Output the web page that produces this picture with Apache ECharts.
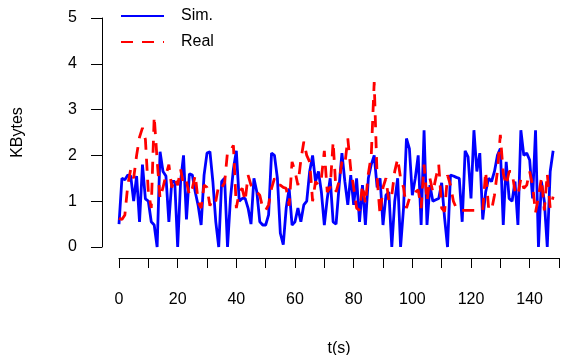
<!DOCTYPE html>
<html>
<head>
<meta charset="utf-8">
<script src="https://cdn.jsdelivr.net/npm/echarts@6/dist/echarts.min.js"></script>
<style>
  html, body { margin: 0; padding: 0; background: #fff; }
  #chart { width: 567px; height: 355px; }
</style>
</head>
<body>
<div id="chart"></div>
<script>
// KBytes per second, t = 0..148
const SIM = [
  0.5, 1.5, 1.47, 1.57, 1.55, 1.0, 1.55, 0.55, 1.8, 1.05,
  1.0, 0.55, 0.48, 0, 2.08, 1.65, 1.55, 0.55, 1.43, 1.43,
  0, 1.43, 2.0, 0.6, 1.6, 1.57, 1.2, 0.9, 0.48, 1.57,
  2.05, 2.08, 1.43, 0.55, 0, 1.43, 1.5, 0, 1.06, 1.7,
  2.1, 1.0, 1.06, 1.06, 0.85, 0.5, 1.5, 1.2, 0.55, 0.48,
  0.48, 0.7, 2.05, 2.0, 1.5, 0.3, 0.05, 0.85, 1.28, 0.48,
  0.55, 0.85, 0.55, 0.92, 1.0, 1.65, 2.0, 1.43, 1.65, 1.2,
  0.48, 1.06, 1.5, 0.55, 0.5, 1.3, 2.05, 1.43, 0.92, 1.57,
  0.92, 1.5, 0.55, 1.35, 0.48, 1.5, 1.8, 2.0, 1.3, 1.5,
  0.48, 1.13, 1.2, 0, 1.0, 1.5, 0, 0.85, 2.37, 2.15,
  1.13, 1.5, 2.0, 0.48, 2.55, 0.48, 1.35, 1.0, 1.03, 1.06,
  1.4, 0.63, 0, 1.57, 1.55, 1.52, 1.5, 0.55, 2.1, 1.97,
  1.06, 2.55, 1.65, 2.05, 0.6, 1.2, 1.5, 1.43, 1.65, 2.0,
  2.15, 0.48, 1.86, 1.06, 1.0, 1.43, 0.48, 2.55, 2.0, 2.05,
  1.9, 1.06, 2.55, 0, 1.43, 1.0, 0, 1.65, 2.1
];

const REAL = [
  0.63, 0.6, 0.7, 1.35, 1.7, 1.5, 2.0, 2.4, 2.6, 2.35,
  1.2, 0.85, 2.85, 1.9, 1.06, 1.3, 1.57, 1.8, 1.3, 1.5,
  1.35, 1.7, 1.35, 1.43, 1.13, 1.28, 1.57, 0.98, 0.85, 1.35,
  1.3, 0.9, 1.06, 1.0, 1.35, 1.3, 1.4, 2.08, 2.1, 2.22,
  0.85, 1.2, 1.28, 1.0, 1.57, 1.35, 1.3, 1.2, 1.13, 0.85,
  0.8, 0.92, 1.28, 1.5, 1.35, 1.35, 1.3, 1.28, 0.9, 1.86,
  1.65, 1.35, 1.9, 2.3, 2.0, 1.86, 1.0, 1.43, 1.35, 1.5,
  2.1, 1.2, 1.3, 2.3, 1.2, 1.43, 1.86, 1.8, 2.37, 1.7,
  1.3, 0.85, 0.8, 1.35, 0.95, 1.6, 2.0, 3.6, 1.5, 0.7,
  1.3, 1.5, 1.0, 1.13, 1.65, 1.93, 1.5, 1.3, 0.85, 1.06,
  1.13, 1.2, 1.25, 0.85, 1.8, 1.0, 1.5, 1.2, 1.5, 1.8,
  0.85, 0.77, 1.57, 1.35, 1.0, 0.85, 0.8, 0.8, 0.8, 0.8,
  0.8, 0.8, 0.8, 0.8, 0.8, 1.65, 0.85, 0.8, 1.13, 1.65,
  2.45, 1.6, 1.35, 1.65, 1.65, 1.2, 1.13, 1.5, 1.28, 1.35,
  1.65, 1.35, 0.75, 1.1, 1.5, 0.8, 1.6, 0.85, 1.1
];

const SERIES_NAMES = ["Sim.", "Real"];
const X_TITLE = "t(s)";
const Y_TITLE = "KBytes";

const FONT = "Liberation Sans";
const withTime = (values) => values.map((v, i) => [i, v]);

const chart = echarts.init(document.getElementById("chart"), null, { renderer: "canvas" });

chart.setOption({
  animation: false,
  backgroundColor: "#fff",
  textStyle: { fontFamily: FONT, color: "#000" },
  // fixed plot box; don't let v6 shrink it to fit the axis names
  grid: { left: 119, right: 8, top: 18, bottom: 108, outerBoundsMode: "none" },
  legend: {
    orient: "vertical",
    left: 115,
    top: 3,
    itemWidth: 43,
    itemHeight: 14,
    itemGap: 10,
    // line-only keys, no marker
    itemStyle: { opacity: 0 },
    textStyle: { fontFamily: FONT, fontSize: 16, color: "#000", padding: [0, 0, 0, 12] },
    data: SERIES_NAMES,
  },
  xAxis: {
    type: "value",
    min: 0,
    max: 150,
    interval: 10,
    offset: 11,
    name: X_TITLE,
    nameLocation: "middle",
    nameGap: 83,
    nameTextStyle: { fontFamily: FONT, fontSize: 16, color: "#000" },
    axisLine: { onZero: false, lineStyle: { color: "#000", width: 1 } },
    axisTick: { length: 10, lineStyle: { color: "#000" } },
    axisLabel: {
      margin: 34,
      fontFamily: FONT,
      fontSize: 16,
      color: "#000",
      formatter: (v) => (v % 20 === 0 ? String(v) : ""),
    },
    splitLine: { show: false },
  },
  yAxis: {
    type: "value",
    min: 0,
    max: 5,
    interval: 1,
    offset: 17,
    name: Y_TITLE,
    nameLocation: "middle",
    nameRotate: 90,
    nameGap: 76,
    nameTextStyle: { fontFamily: FONT, fontSize: 16, color: "#000" },
    axisLine: { show: true, onZero: false, lineStyle: { color: "#000", width: 1 } },
    axisTick: { show: true, length: 11, lineStyle: { color: "#000" } },
    axisLabel: { margin: 25, fontFamily: FONT, fontSize: 16, color: "#000" },
    splitLine: { show: false },
  },
  series: [
    {
      name: SERIES_NAMES[0],
      type: "line",
      data: withTime(SIM),
      symbol: "none",
      lineStyle: { color: "#0000ff", width: 2.8 },
      itemStyle: { color: "#0000ff" },
    },
    {
      name: SERIES_NAMES[1],
      type: "line",
      data: withTime(REAL),
      symbol: "none",
      lineStyle: { color: "#ff0000", width: 2.8, type: [12, 9] },
      itemStyle: { color: "#ff0000" },
    },
  ],
});
</script>
</body>
</html>
